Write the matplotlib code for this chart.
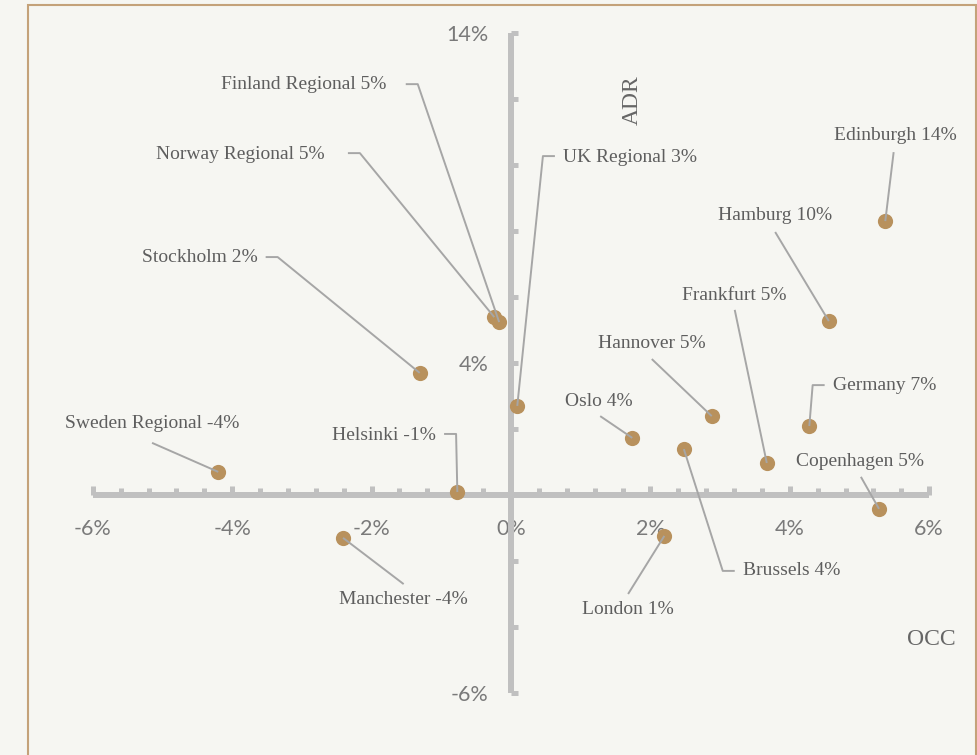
import matplotlib
matplotlib.use("Agg")
import matplotlib.pyplot as plt
from matplotlib.patches import Rectangle
from matplotlib.ticker import FixedLocator

# data: change in occupancy (x) and ADR (y), in %
cities = ["Edinburgh 14%", "Hamburg 10%", "Frankfurt 5%", "Germany 7%",
          "Copenhagen 5%", "Hannover 5%", "Oslo 4%", "Brussels 4%",
          "London 1%", "UK Regional 3%", "Finland Regional 5%",
          "Norway Regional 5%", "Stockholm 2%", "Helsinki -1%",
          "Sweden Regional -4%", "Manchester -4%"]
occ = [5.37, 4.56, 3.67, 4.28, 5.28, 2.88, 1.74, 2.48,
       2.20, 0.09, -0.17, -0.24, -1.31, -0.77, -4.20, -2.41]
adr = [8.30, 5.27, 0.97, 2.09, -0.42, 2.39, 1.73, 1.39,
       -1.24, 2.70, 5.24, 5.39, 3.70, 0.09, 0.70, -1.30]

x_ticks = [-6, -4, -2, 0, 2, 4, 6]
x_ticklabels = ["-6%", "-4%", "-2%", "0%", "2%", "4%", "6%"]
x_minor = [-5.6, -5.2, -4.8, -4.4, -3.6, -3.2, -2.8, -2.4, -1.6, -1.2, -0.8,
           -0.4, 0.4, 0.8, 1.2, 1.6, 2.4, 2.8, 3.2, 3.6, 4.4, 4.8, 5.2, 5.6]
y_ticks = [-6, -4, -2, 0, 2, 4, 6, 8, 10, 12, 14]
y_ticklabels = ["-6%", "", "", "", "", "4%", "", "", "", "", "14%"]

# label layout (data units): text pos, alignment, leader start, elbow?
labels_layout = [
    (5.52, 10.88, "center", 5.49, 10.39, False),
    (3.79, 8.48, "center", 3.79, 7.97, False),
    (3.20, 6.06, "center", 3.21, 5.61, False),
    (4.62, 3.33, "left", 4.50, 3.33, True),
    (5.01, 1.00, "center", 5.02, 0.55, False),
    (2.02, 4.58, "center", 2.02, 4.12, False),
    (1.26, 2.82, "center", 1.28, 2.39, False),
    (3.33, -2.30, "left", 3.21, -2.30, True),
    (1.68, -3.48, "center", 1.68, -3.00, False),
    (0.75, 10.24, "left", 0.63, 10.27, True),
    (-1.79, 12.45, "right", -1.51, 12.45, True),
    (-2.67, 10.33, "right", -2.34, 10.36, True),
    (-3.64, 7.21, "right", -3.52, 7.21, True),
    (-1.08, 1.79, "right", -0.96, 1.85, True),
    (-5.15, 2.18, "center", -5.15, 1.58, False),
    (-1.54, -3.18, "center", -1.54, -2.70, False),
]

bg = "#f6f6f2"
gold = "#c4a27a"
axis_gray = "#c0c0c0"
dot = "#b8915d"
leader = "#a6a6a6"
txt = "#5e5e5e"

W, H = 978, 755
x0_px, y0_px = 511, 495     # pixel position of origin
sx, sy = 69.7, 33.0         # pixels per 1%

fig = plt.figure(figsize=(W / 100, H / 100), dpi=100, facecolor=bg)
ax = fig.add_axes([0, 0, 1, 1])
ax.set_facecolor(bg)
ax.set_xlim(-x0_px / sx, (W - x0_px) / sx)
ax.set_ylim(-(H - y0_px) / sy, y0_px / sy)

# axes crossing at zero
for s in ["top", "right"]:
    ax.spines[s].set_visible(False)
ax.spines["left"].set_position(("data", 0))
ax.spines["bottom"].set_position(("data", 0))
ax.spines["left"].set_bounds(-6, 14)
ax.spines["bottom"].set_bounds(-6, 6)
for s in ["left", "bottom"]:
    ax.spines[s].set_linewidth(4.3)
    ax.spines[s].set_color(axis_gray)
    ax.spines[s].set_capstyle("butt")

ax.xaxis.set_major_locator(FixedLocator(x_ticks))
ax.xaxis.set_minor_locator(FixedLocator(x_minor))
ax.set_xticklabels(x_ticklabels)
ax.yaxis.set_major_locator(FixedLocator(y_ticks))
ax.set_yticklabels(y_ticklabels)

ax.tick_params(axis="x", which="major", direction="in", length=6.2, width=3.6,
               color=axis_gray, pad=17, labelcolor="#7a7a7a")
ax.tick_params(axis="x", which="minor", direction="in", length=5.0, width=3.6,
               color=axis_gray)
ax.tick_params(axis="y", which="major", direction="in", length=5.0, width=3.6,
               color=axis_gray, pad=16, labelcolor="#7a7a7a")
for lab in ax.get_xticklabels() + ax.get_yticklabels():
    lab.set_fontfamily(["Lato", "DejaVu Sans"])
    lab.set_fontsize(15.5)
    lab.set_fontweight("normal")

# points
ax.scatter(occ, adr, s=120, color=dot, zorder=3, linewidths=0)

# labels with leader lines
serif = ["Liberation Serif", "DejaVu Serif"]
elbow = 12 / sx
for name, px, py, lay in zip(cities, occ, adr, labels_layout):
    tx, ty, ha, lx, ly, has_elbow = lay
    ax.text(tx, ty, name, ha=ha, va="center", fontsize=14, color=txt,
            family=serif, zorder=5)
    if has_elbow:
        ex = lx + elbow if px > lx else lx - elbow
        xs, ys = [lx, ex, px], [ly, ly, py]
    else:
        xs, ys = [lx, px], [ly, py]
    ax.plot(xs, ys, color=leader, lw=1.4, zorder=4, solid_capstyle="butt")

ax.text(1.74, 11.97, "ADR", rotation=90, ha="center", va="center",
        fontsize=17, color="#666666", family=serif)
ax.text(6.03, -4.39, "OCC", ha="center", va="center",
        fontsize=17, color="#666666", family=serif)

# golden frame
fig.add_artist(Rectangle((28 / W, -0.05), (976 - 28) / W, 1.05 - 4.5 / H,
                         transform=fig.transFigure, fill=False,
                         edgecolor=gold, lw=1.5))

fig.savefig("out.png", dpi=100, facecolor=bg)
